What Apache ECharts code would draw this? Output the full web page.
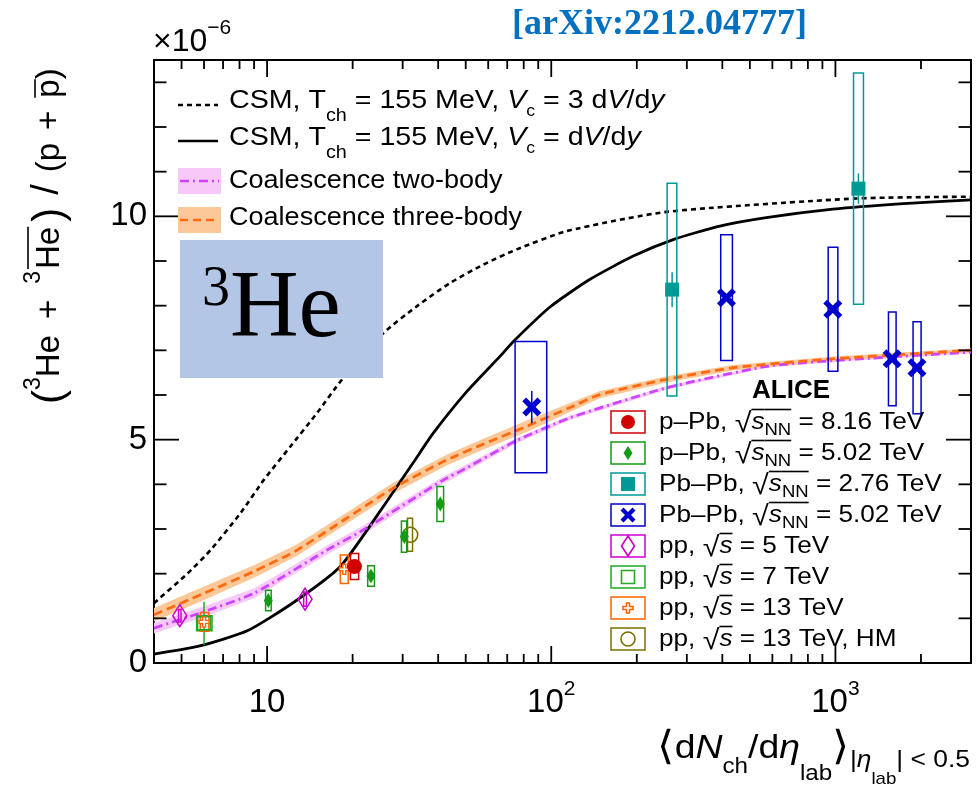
<!DOCTYPE html>
<html><head><meta charset="utf-8">
<script src="https://cdn.jsdelivr.net/npm/echarts@6/dist/echarts.min.js"></script>
<style>html,body{margin:0;padding:0;background:#fff}#c{width:977px;height:791px}</style>
</head><body><div id="c"></div>
<script>
const SANS = "'Liberation Sans', Arial, Helvetica, sans-serif";
const SERIF = "'Liberation Serif', 'Times New Roman', serif";

// ---------------- axes ----------------
const xMin = 4, xMax = 3000, yMin = 0, yMax = 13.5;
const xMajorTicks = [10, 100, 1000];
const xMinorTicks = [5, 6, 7, 8, 9, 20, 30, 40, 50, 60, 70, 80, 90, 200, 300, 400, 500, 600, 700, 800, 900, 2000];
const yMajorTicks = [0, 5, 10];
const yMinorTicks = [1, 2, 3, 4, 6, 7, 8, 9, 11, 12, 13];
const xLabelValues = [10, 100, 1000];
const xLabelTexts = ['{b|10}', '{b|10}{s|2}', '{b|10}{s|3}'];
const yLabelValues = [0, 5, 10];

// ---------------- model curves (units of 1e-6) ----------------
const csmDashedX = [4.0, 5.24, 6.33, 8.07, 9.74, 12.09, 15.0, 18.37, 25.7, 33.7, 44.1, 57.7, 75.6, 113.4, 254.5, 1183, 3000];
const csmDashedY = [1.34, 2.00, 2.53, 3.36, 4.10, 4.85, 5.60, 6.35, 7.39, 7.99, 8.51, 8.92, 9.26, 9.67, 10.10, 10.40, 10.44];
const csmSolidX = [4.0, 5.70, 8.52, 12.42, 18.1, 25.0, 32.8, 38.5, 50.5, 66.1, 73.6, 99.0, 136.9, 194.3, 268.5, 391.6, 571, 979, 1680, 3000];
const csmSolidY = [0.20, 0.37, 0.72, 1.36, 2.16, 3.40, 4.50, 5.15, 6.08, 6.87, 7.20, 7.97, 8.59, 9.11, 9.48, 9.78, 9.97, 10.16, 10.28, 10.37];
const coal2X = [4.0, 6.0, 8.99, 16.27, 21.3, 41.8, 47.8, 75.6, 116.4, 254.5, 571, 979, 3000];
const coal2Y = [0.78, 1.15, 1.56, 2.53, 2.94, 4.10, 4.29, 4.98, 5.49, 6.16, 6.64, 6.77, 6.96];
const coal2Err = [0.12, 0.12, 0.11, 0.10, 0.10, 0.08, 0.08, 0.06, 0.05, 0.04, 0.03, 0.03, 0.03];
const coal3X = [4.0, 6.0, 8.99, 12.77, 27.9, 43.0, 57.7, 82.0, 116.4, 148.4, 254.5, 436, 979, 3000];
const coal3Y = [1.08, 1.56, 2.05, 2.53, 3.92, 4.55, 4.90, 5.30, 5.72, 6.01, 6.35, 6.61, 6.81, 7.00];
const coal3Err = [0.15, 0.15, 0.14, 0.13, 0.12, 0.12, 0.12, 0.13, 0.10, 0.08, 0.07, 0.06, 0.05, 0.04];

// ---------------- data points ----------------
const pPb816X = [20.3], pPb816Y = [2.16], pPb816Stat = [0], pPb816Sys = [0.29], pPb816XLo = [19.65], pPb816XHi = [21.0];
const pPb502X = [10.1, 23.2, 30.4, 40.7], pPb502Y = [1.40, 1.95, 2.83, 3.56], pPb502Stat = [0, 0, 0, 0], pPb502Sys = [0.23, 0.23, 0.35, 0.39], pPb502XLo = [9.88, 22.6, 29.7, 39.6], pPb502XHi = [10.34, 23.87, 31.0, 41.8];
const PbPb276X = [266.3, 1205], PbPb276Y = [8.36, 10.62], PbPb276Stat = [0.39, 0.34], PbPb276Sys = [2.38, 2.59], PbPb276XLo = [255.7, 1158], PbPb276XHi = [276.6, 1255];
const PbPb502X = [85.4, 413.6, 979, 1583, 1936], PbPb502Y = [5.73, 8.18, 7.92, 6.81, 6.61], PbPb502Stat = [0.36, 0, 0, 0, 0], PbPb502Sys = [1.47, 1.41, 1.39, 1.05, 1.03], PbPb502XLo = [74.6, 394.8, 943, 1537, 1876], PbPb502XHi = [96.4, 434, 1020, 1635, 2002];
const pp5X = [4.93, 13.6], pp5Y = [1.06, 1.43], pp5Stat = [0, 0], pp5Sys = [0.14, 0.16], pp5XLo = [4.88, 13.45], pp5XHi = [4.98, 13.75];
const pp7X = [6.0], pp7Y = [0.89], pp7Stat = [0.48], pp7Sys = [0.17], pp7XLo = [5.65], pp7XHi = [6.4];
const pp13X = [6.0, 18.7], pp13Y = [0.92, 2.10], pp13Stat = [0, 0], pp13Sys = [0.21, 0.32], pp13XLo = [5.82, 18.1], pp13XHi = [6.24, 19.3];
const pp13HMX = [31.9], pp13HMY = [2.87], pp13HMStat = [0], pp13HMSys = [0.37], pp13HMXLo = [31.2], pp13HMXHi = [32.5];

// ---------------- colours ----------------
const C_RED = '#d00000', C_GREEN1 = '#159a15', C_TEAL = '#009a96', C_BLUE = '#0000cc',
      C_MAG = '#cc00cc', C_GREEN2 = '#22a822', C_ORANGE = '#ff6400', C_OLIVE = '#7a7000';
const C_PURPLE_LINE = '#cc44ff', C_PURPLE_BAND = '#f8c8f8', C_ORANGE_LINE = '#ff6a10', C_ORANGE_BAND = '#fdc898';
const X_PATH = 'path://M0,2 L2,0 L5,3 L8,0 L10,2 L7,5 L10,8 L8,10 L5,7 L2,10 L0,8 L3,5 Z';
const CROSS_PATH = 'path://M3.5,0 L6.5,0 L6.5,3.5 L10,3.5 L10,6.5 L6.5,6.5 L6.5,10 L3.5,10 L3.5,6.5 L0,6.5 L0,3.5 L3.5,3.5 Z';

// ---------------- text helper ----------------
const mctx = document.createElement('canvas').getContext('2d');
function fnt(p) { return (p.it ? 'italic ' : '') + (p.b ? 'bold ' : '') + p.size + 'px ' + (p.fam || SANS); }
function textRun(x, y, pieces, o) {
  o = o || {};
  const z = o.z || 100;
  let cx = 0; const kids = []; const ovl = [];
  pieces.forEach(p0 => {
    const p = Object.assign({size: o.size || 24, fam: o.fam}, p0);
    cx += (p.gap || 0);
    const f = fnt(p); mctx.font = f; const w = mctx.measureText(p.t).width;
    const k = (p.fam === SERIF) ? 0.3375 : 0.3465;
    kids.push({type: 'text', x: cx, y: (p.dy || 0) - k * p.size, silent: true, z: z,
      style: {text: p.t, font: f, fill: p.fill || o.fill || '#000', align: 'left', verticalAlign: 'middle'}});
    if (p.ov != null) ovl.push([cx, cx + w, p.ov]);
    cx += w;
  });
  ovl.forEach(s => kids.push({type: 'line', silent: true, z: z, shape: {x1: s[0], y1: s[2], x2: s[1], y2: s[2]}, style: {stroke: o.fill || '#000', lineWidth: o.ovw || 1.6}}));
  let off = 0; if (o.align === 'right') off = -cx; else if (o.align === 'center') off = -cx / 2;
  kids.forEach(k => { if (k.type === 'text') k.x += off; else { k.shape.x1 += off; k.shape.x2 += off; } });
  return {type: 'group', x: x, y: y, rotation: o.rot || 0, scaleX: o.sx || 1, scaleY: o.sy || 1, children: kids, z: z};
}

// ---------------- series builders ----------------
function bandSeries(xs, ys, es, color) {
  return {type: 'custom', silent: true, z: 1, clip: true, data: [[xs[0], ys[0]]],
    renderItem(params, api) {
      const pts = [];
      for (let i = 0; i < xs.length; i++) pts.push(api.coord([xs[i], ys[i] + es[i]]));
      for (let i = xs.length - 1; i >= 0; i--) pts.push(api.coord([xs[i], ys[i] - es[i]]));
      return {type: 'polygon', shape: {points: pts}, style: {fill: color}};
    }};
}
function lineSeries(xs, ys, color, dash, width) {
  return {type: 'line', silent: true, z: 2, symbol: 'none', smooth: 0.2, clip: true,
    data: xs.map((x, i) => [x, ys[i]]),
    lineStyle: {color: color, width: width || 2.8, type: dash || 'solid'}};
}
function boxSeries(X, Y, Stat, Sys, XLo, XHi, color) {
  return {type: 'custom', silent: true, z: 3, clip: false,
    data: X.map((x, i) => [x, Y[i], Stat[i], Sys[i], XLo[i], XHi[i]]),
    renderItem(params, api) {
      const x = api.value(0), y = api.value(1), st = api.value(2), sy = api.value(3), lo = api.value(4), hi = api.value(5);
      const p1 = api.coord([lo, y + sy]), p2 = api.coord([hi, y - sy]);
      const ch = [{type: 'rect', shape: {x: p1[0], y: p1[1], width: p2[0] - p1[0], height: p2[1] - p1[1]},
        style: {fill: 'none', stroke: color, lineWidth: 1.5}}];
      if (st > 0) {
        const a = api.coord([x, y + st]), b = api.coord([x, y - st]);
        ch.push({type: 'line', shape: {x1: a[0], y1: a[1], x2: b[0], y2: b[1]}, style: {stroke: color, lineWidth: 1.5}});
      }
      return {type: 'group', children: ch};
    }};
}
function markerSeries(X, Y, symbol, size, fill, border, bw) {
  return {type: 'scatter', silent: true, z: 4, symbol: symbol, symbolSize: size,
    data: X.map((x, i) => [x, Y[i]]),
    itemStyle: {color: fill, borderColor: border || fill, borderWidth: bw || 0, opacity: 1}};
}
const tickData = xMajorTicks.map(v => [v, 0, 0]).concat(xMinorTicks.map(v => [v, 0, 1]))
  .concat(yMajorTicks.map(v => [xMin, v, 2])).concat(yMinorTicks.map(v => [xMin, v, 3]));
const tickSeries = {type: 'custom', silent: true, z: 10, clip: false, data: tickData,
  renderItem(params, api) {
    const v0 = api.value(0), v1 = api.value(1), k = api.value(2);
    const st = {stroke: '#000', lineWidth: 1.8};
    if (k < 2) {
      const L = k === 0 ? 17 : 9; const b = api.coord([v0, yMin]), t = api.coord([v0, yMax]);
      return {type: 'group', children: [
        {type: 'line', shape: {x1: b[0], y1: b[1], x2: b[0], y2: b[1] - L}, style: st},
        {type: 'line', shape: {x1: t[0], y1: t[1], x2: t[0], y2: t[1] + L}, style: st}]};
    }
    const L = k === 2 ? 25 : 12.5; const l = api.coord([xMin, v1]), r = api.coord([xMax, v1]);
    return {type: 'group', children: [
      {type: 'line', shape: {x1: l[0], y1: l[1], x2: l[0] + L, y2: l[1]}, style: st},
      {type: 'line', shape: {x1: r[0], y1: r[1], x2: r[0] - L, y2: r[1]}, style: st}]};
  }};

// ---------------- graphic (legends, titles) ----------------
const G = [];
// title
G.push(textRun(807, 36.7, [{t: '[arXiv:2212.04777]', size: 36, b: 1, fam: SERIF}], {align: 'right', fill: '#0070c0'}));
// exponent
G.push(textRun(153, 53, [{t: '×10', size: 32}, {t: '−6', size: 21, dy: -18}]));
// y title (reads bottom to top)
G.push(textRun(61, 404, [{t: '(', size: 42, dy: 4}, {t: '3', size: 23, dy: -19}, {t: 'He'},
  {t: '+', gap: 16}, {t: '3', size: 23, dy: -19, gap: 16}, {t: 'He', ov: -33, gap: 2}, {t: ')', size: 42, dy: 4, gap: 5},
  {t: '/', size: 38, gap: 13}, {t: '(p', gap: 12}, {t: '+', gap: 13}, {t: 'p', ov: -26, gap: 13}, {t: ')'}],
  {size: 33, rot: Math.PI / 2}));
// x title
G.push(textRun(970, 760, [{t: '⟨', size: 40, dy: 2}, {t: 'd'}, {t: 'N', it: 1}, {t: 'ch', size: 22, dy: 15}, {t: '/d'},
  {t: 'η', it: 1}, {t: 'lab', size: 22, dy: 22}, {t: '⟩', size: 40, dy: 2}, {t: '|', size: 24, dy: 9},
  {t: 'η', it: 1, size: 24, dy: 9}, {t: 'lab', size: 17, dy: 25}, {t: '| < 0.5', size: 24, dy: 9}], {size: 34, align: 'right', sx: 1.1}));
// top-left legend
G.push({type: 'line', z: 100, shape: {x1: 178, y1: 105, x2: 218, y2: 105}, style: {stroke: '#000', lineWidth: 2.5, lineDash: [5, 4]}});
G.push({type: 'line', z: 100, shape: {x1: 178, y1: 141, x2: 218, y2: 141}, style: {stroke: '#000', lineWidth: 2.5}});
G.push({type: 'rect', z: 100, shape: {x: 178, y: 168, width: 43, height: 26}, style: {fill: C_PURPLE_BAND}});
G.push({type: 'line', z: 101, shape: {x1: 180, y1: 181, x2: 219, y2: 181}, style: {stroke: C_PURPLE_LINE, lineWidth: 2.5, lineDash: [9, 4, 2, 4]}});
G.push({type: 'rect', z: 100, shape: {x: 178, y: 207, width: 43, height: 26}, style: {fill: C_ORANGE_BAND}});
G.push({type: 'line', z: 101, shape: {x1: 180, y1: 220, x2: 219, y2: 220}, style: {stroke: C_ORANGE_LINE, lineWidth: 2.5, lineDash: [8, 5]}});
G.push(textRun(229, 110, [{t: 'CSM, T'}, {t: 'ch', size: 18, dy: 12}, {t: ' = 155 MeV, '}, {t: 'V', it: 1}, {t: 'c', size: 16, dy: 7},
  {t: ' = 3 d'}, {t: 'V', it: 1}, {t: '/d'}, {t: 'y', it: 1}], {size: 26, sx: 1.1}));
G.push(textRun(229, 147, [{t: 'CSM, T'}, {t: 'ch', size: 18, dy: 12}, {t: ' = 155 MeV, '}, {t: 'V', it: 1}, {t: 'c', size: 16, dy: 7},
  {t: ' = d'}, {t: 'V', it: 1}, {t: '/d'}, {t: 'y', it: 1}], {size: 26, sx: 1.1}));
G.push(textRun(229, 190, [{t: 'Coalescence two-body'}], {size: 26, sx: 1.04}));
G.push(textRun(229, 227, [{t: 'Coalescence three-body'}], {size: 26, sx: 1.04}));
// 3He box
G.push({type: 'rect', z: 98, shape: {x: 180, y: 240, width: 203, height: 138}, style: {fill: '#b3c6e6'}});
G.push(textRun(202, 343, [{t: '3', size: 56, dy: -34, fam: SERIF}, {t: 'He', size: 95, fam: SERIF}], {z: 110}));
// right legend
G.push(textRun(791, 400, [{t: 'ALICE', b: 1}], {size: 26, align: 'center'}));
const sq = (s) => [{t: '√', size: 28, dy: 3}, {t: 's', it: 1, ov: -21}].concat(s ? [{t: 'NN', size: 17, dy: 6, ov: -21}] : []);
const legRows = [
  [C_RED, 'circle', [{t: 'p–Pb, '}].concat(sq(1), [{t: ' = 8.16 TeV'}])],
  [C_GREEN1, 'fdiamond', [{t: 'p–Pb, '}].concat(sq(1), [{t: ' = 5.02 TeV'}])],
  [C_TEAL, 'fsquare', [{t: 'Pb–Pb, '}].concat(sq(1), [{t: ' = 2.76 TeV'}])],
  [C_BLUE, 'x', [{t: 'Pb–Pb, '}].concat(sq(1), [{t: ' = 5.02 TeV'}])],
  [C_MAG, 'odiamond', [{t: 'pp, '}].concat(sq(0), [{t: ' = 5 TeV'}])],
  [C_GREEN2, 'osquare', [{t: 'pp, '}].concat(sq(0), [{t: ' = 7 TeV'}])],
  [C_ORANGE, 'ocross', [{t: 'pp, '}].concat(sq(0), [{t: ' = 13 TeV'}])],
  [C_OLIVE, 'ocircle', [{t: 'pp, '}].concat(sq(0), [{t: ' = 13 TeV, HM'}])]
];
legRows.forEach((r, i) => {
  const cy = 422 + 31 * i, cx = 628, col = r[0];
  G.push({type: 'rect', z: 100, shape: {x: 611, y: cy - 11, width: 34, height: 22}, style: {fill: '#fff', stroke: col, lineWidth: 1.5}});
  const m = r[1]; let el;
  if (m === 'circle') el = {type: 'circle', shape: {cx, cy, r: 7}, style: {fill: col}};
  else if (m === 'ocircle') el = {type: 'circle', shape: {cx, cy, r: 7}, style: {fill: 'none', stroke: col, lineWidth: 1.6}};
  else if (m === 'fdiamond') el = {type: 'polygon', shape: {points: [[cx, cy - 7], [cx + 4.5, cy], [cx, cy + 7], [cx - 4.5, cy]]}, style: {fill: col}};
  else if (m === 'odiamond') el = {type: 'polygon', shape: {points: [[cx, cy - 10], [cx + 6.5, cy], [cx, cy + 10], [cx - 6.5, cy]]}, style: {fill: 'none', stroke: col, lineWidth: 1.6}};
  else if (m === 'fsquare') el = {type: 'rect', shape: {x: cx - 7, y: cy - 7, width: 14, height: 14}, style: {fill: col}};
  else if (m === 'osquare') el = {type: 'rect', shape: {x: cx - 6.5, y: cy - 6.5, width: 13, height: 13}, style: {fill: 'none', stroke: col, lineWidth: 1.6}};
  else if (m === 'x') { const s = 1.5; const P = [[0,2],[2,0],[5,3],[8,0],[10,2],[7,5],[10,8],[8,10],[5,7],[2,10],[0,8],[3,5]];
    el = {type: 'polygon', shape: {points: P.map(p => [cx + (p[0] - 5) * s, cy + (p[1] - 5) * s])}, style: {fill: col}}; }
  else if (m === 'ocross') { const s = 1.0; const P = [[3.5,0],[6.5,0],[6.5,3.5],[10,3.5],[10,6.5],[6.5,6.5],[6.5,10],[3.5,10],[3.5,6.5],[0,6.5],[0,3.5],[3.5,3.5]];
    el = {type: 'polygon', shape: {points: P.map(p => [cx + (p[0] - 5) * s, cy + (p[1] - 5) * s])}, style: {fill: '#fff', stroke: col, lineWidth: 1.5}}; }
  el.z = 101; G.push(el);
  G.push(textRun(659, cy + 8.5, r[2], {size: 24, sx: 1.09}));
});

// ---------------- chart ----------------
const chart = echarts.init(document.getElementById('c'), null, {renderer: 'canvas'});
chart.setOption({
  animation: false,
  backgroundColor: '#fff',
  grid: {left: 154, top: 60, right: 6, bottom: 128, show: true, borderColor: '#000', borderWidth: 2, backgroundColor: 'transparent'},
  xAxis: {type: 'log', logBase: 10, min: xMin, max: xMax,
    axisLine: {show: false}, axisTick: {show: false}, splitLine: {show: false}, minorTick: {show: false},
    axisLabel: {margin: 16, color: '#000', fontFamily: SANS, fontSize: 33,
      formatter: v => { for (let i = 0; i < xLabelValues.length; i++) if (Math.abs(v / xLabelValues[i] - 1) < 1e-6) return xLabelTexts[i]; return ''; },
      rich: {
        b: {fontFamily: SANS, fontSize: 33, lineHeight: 40, verticalAlign: 'bottom', color: '#000'},
        s: {fontFamily: SANS, fontSize: 21, lineHeight: 26, verticalAlign: 'top', color: '#000'}
      }}},
  yAxis: {type: 'value', min: yMin, max: yMax, interval: 5,
    axisLine: {show: false}, axisTick: {show: false}, splitLine: {show: false},
    axisLabel: {margin: 7, color: '#000', fontFamily: SANS, fontSize: 33,
      formatter: v => yLabelValues.some(t => Math.abs(t - v) < 1e-9) ? String(v) : ''}},
  series: [
    bandSeries(coal2X, coal2Y, coal2Err, C_PURPLE_BAND),
    bandSeries(coal3X, coal3Y, coal3Err, C_ORANGE_BAND),
    lineSeries(csmDashedX, csmDashedY, '#000', [5, 4], 2.6),
    lineSeries(csmSolidX, csmSolidY, '#000', 'solid', 2.8),
    lineSeries(coal2X, coal2Y, C_PURPLE_LINE, [9, 4, 2, 4], 2.8),
    lineSeries(coal3X, coal3Y, C_ORANGE_LINE, [9, 5], 2.8),
    boxSeries(pp5X, pp5Y, pp5Stat, pp5Sys, pp5XLo, pp5XHi, C_MAG),
    boxSeries(pp7X, pp7Y, pp7Stat, pp7Sys, pp7XLo, pp7XHi, C_GREEN2),
    boxSeries(pp13X, pp13Y, pp13Stat, pp13Sys, pp13XLo, pp13XHi, C_ORANGE),
    boxSeries(pp13HMX, pp13HMY, pp13HMStat, pp13HMSys, pp13HMXLo, pp13HMXHi, C_OLIVE),
    boxSeries(pPb502X, pPb502Y, pPb502Stat, pPb502Sys, pPb502XLo, pPb502XHi, C_GREEN1),
    boxSeries(pPb816X, pPb816Y, pPb816Stat, pPb816Sys, pPb816XLo, pPb816XHi, C_RED),
    boxSeries(PbPb276X, PbPb276Y, PbPb276Stat, PbPb276Sys, PbPb276XLo, PbPb276XHi, C_TEAL),
    boxSeries(PbPb502X, PbPb502Y, PbPb502Stat, PbPb502Sys, PbPb502XLo, PbPb502XHi, C_BLUE),
    markerSeries(pp5X, pp5Y, 'diamond', [14, 22], 'rgba(0,0,0,0)', C_MAG, 1.6),
    markerSeries(pp7X, pp7Y, 'rect', 13, 'rgba(0,0,0,0)', C_GREEN2, 1.6),
    markerSeries(pp13X, pp13Y, CROSS_PATH, 10, '#fff', C_ORANGE, 1.4),
    markerSeries(pp13HMX, pp13HMY, 'circle', 15, 'rgba(0,0,0,0)', C_OLIVE, 1.6),
    markerSeries(pPb502X, pPb502Y, 'diamond', [9, 15], C_GREEN1),
    markerSeries(pPb816X, pPb816Y, 'circle', 15, C_RED),
    markerSeries(PbPb276X, PbPb276Y, 'rect', 14, C_TEAL),
    markerSeries(PbPb502X, PbPb502Y, X_PATH, 19, C_BLUE),
    tickSeries
  ],
  graphic: {elements: G}
});
</script></body></html>
